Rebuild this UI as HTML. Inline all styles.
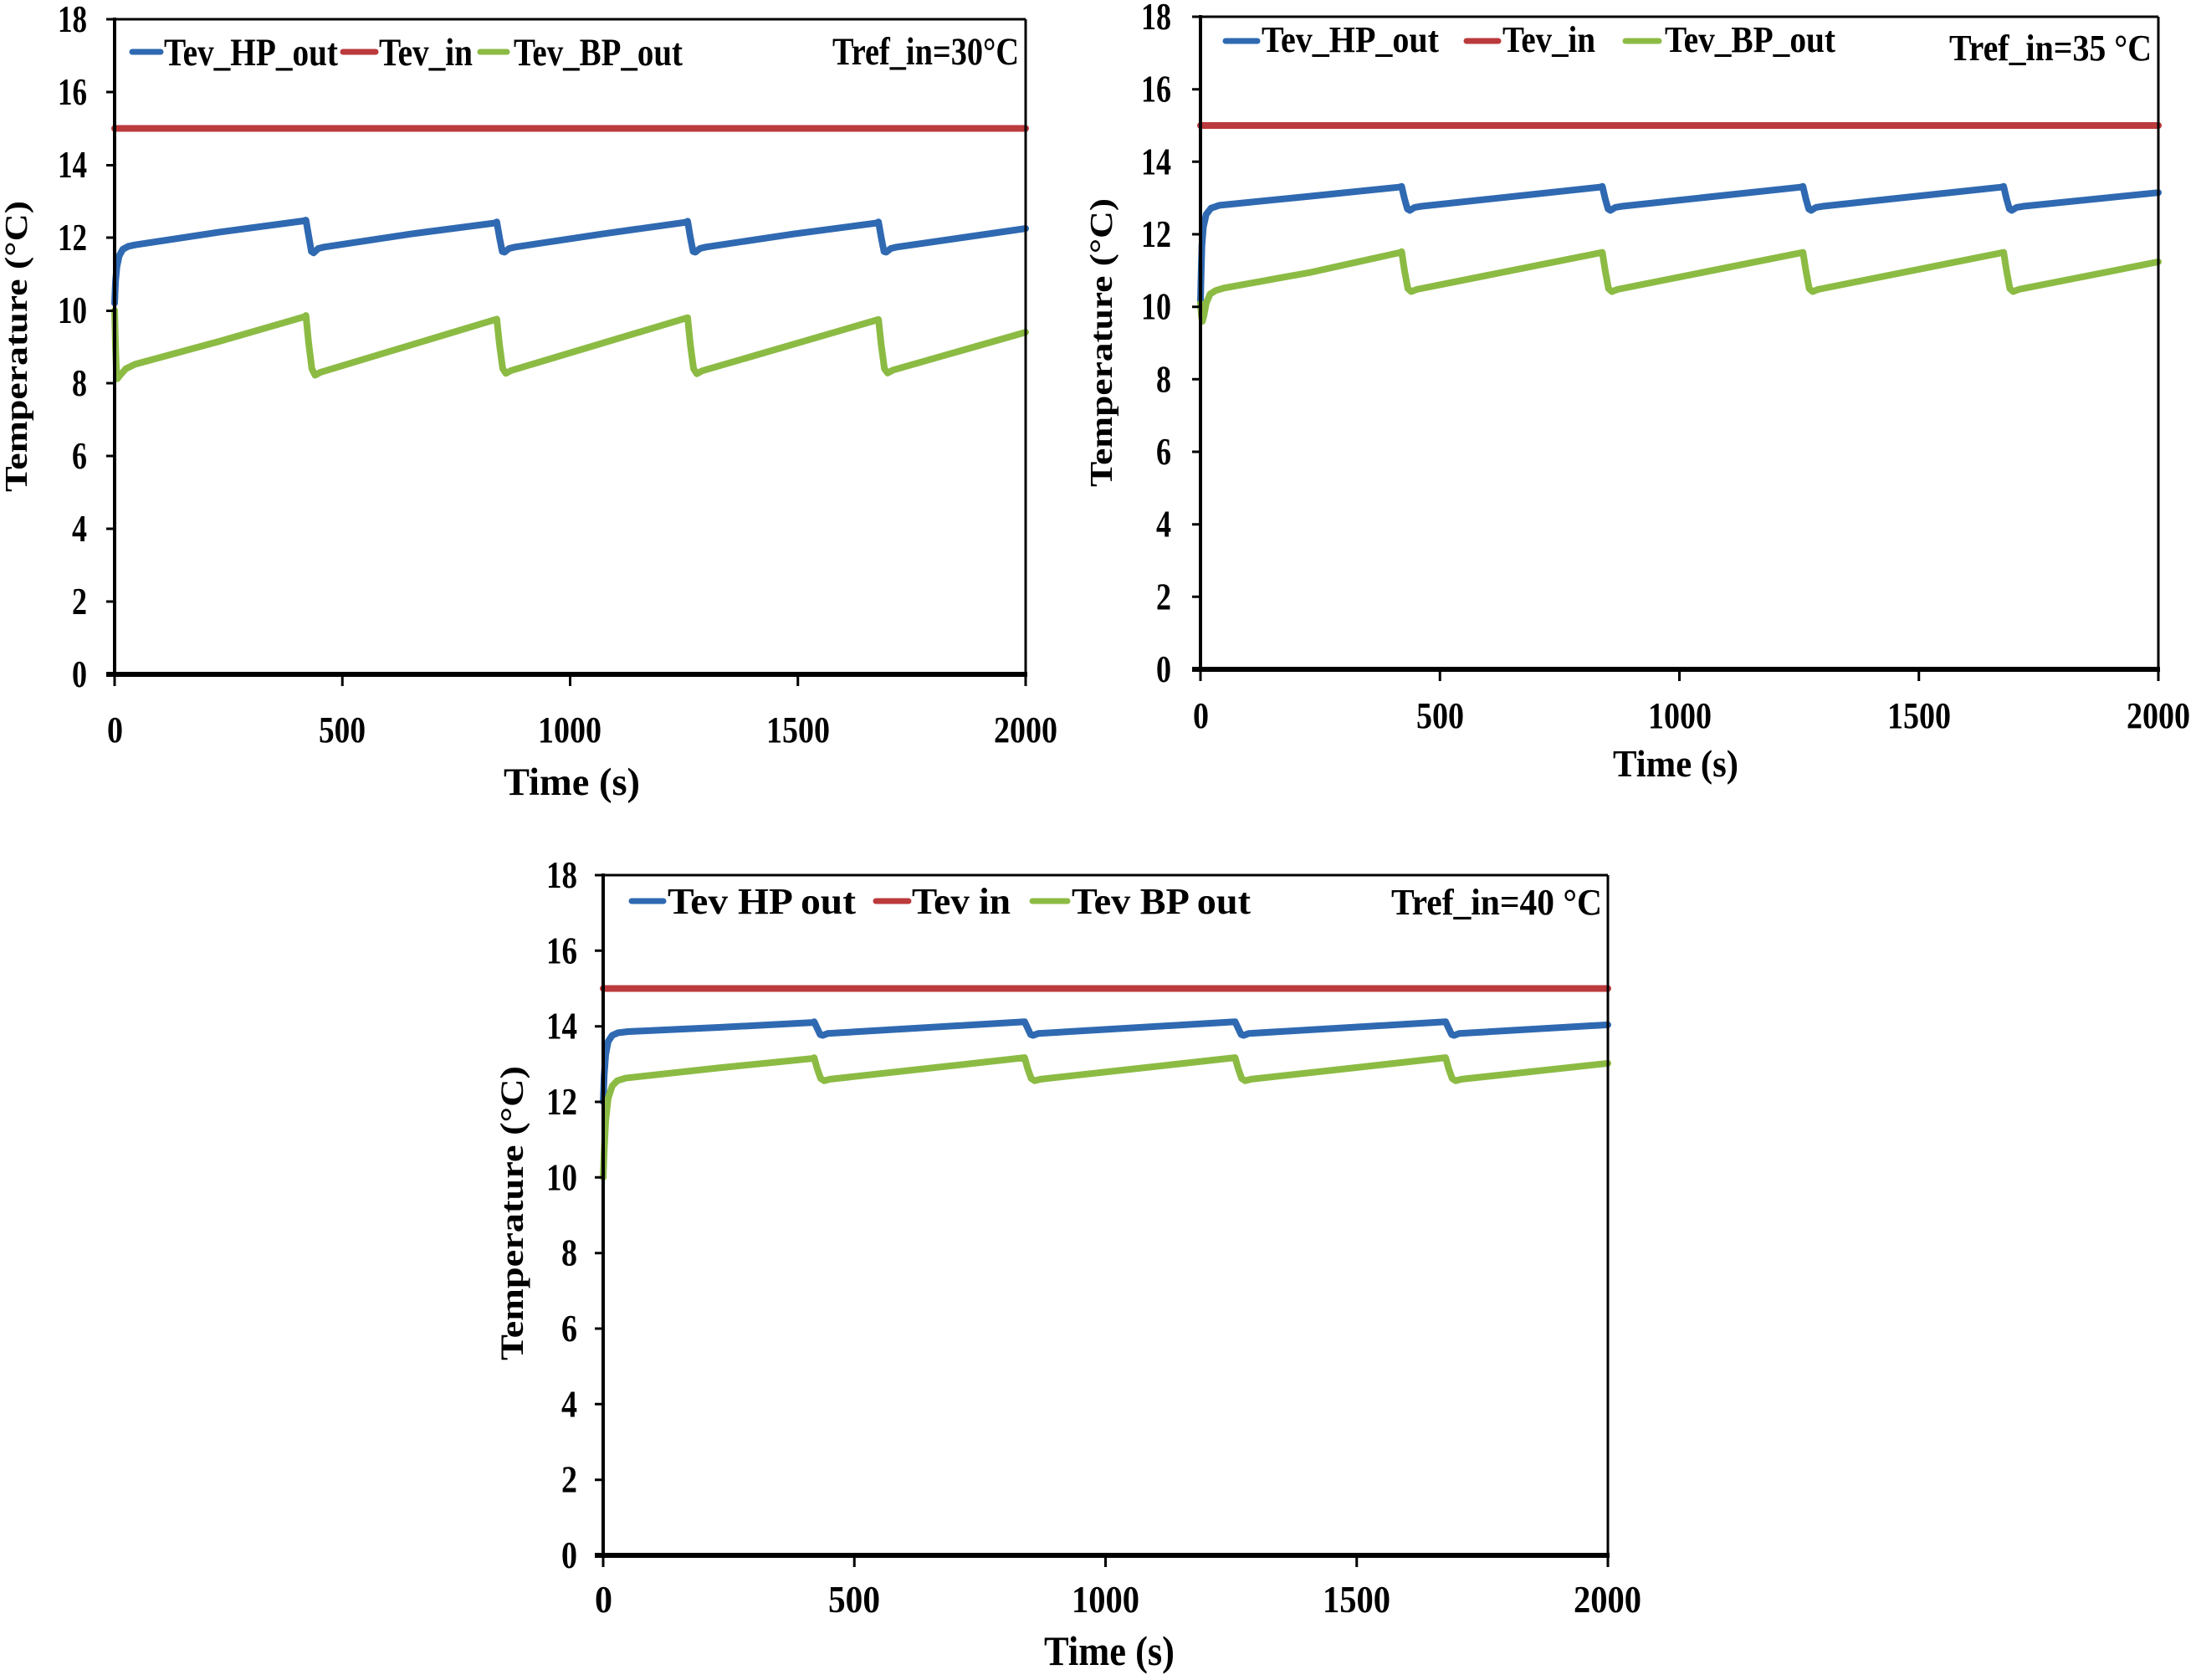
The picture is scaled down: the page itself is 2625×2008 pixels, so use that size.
<!DOCTYPE html>
<html>
<head>
<meta charset="utf-8">
<style>
html,body{margin:0;padding:0;background:#fff;}
svg{display:block;}
.t{font-family:"Liberation Serif","Times New Roman",serif;font-weight:bold;fill:#000;}
.ax{stroke:#000;fill:none;}
.s{fill:none;stroke-width:8;stroke-linejoin:round;stroke-linecap:round;}
.b{stroke:#2f69b1;}
.r{stroke:#bb3a3c;}
.g{stroke:#8cbb44;}
.m{stroke-width:7;stroke-linecap:round;}
</style>
</head>
<body>
<svg width="2625" height="2008" viewBox="0 0 2625 2008" xmlns="http://www.w3.org/2000/svg">
<rect x="0" y="0" width="2625" height="2008" fill="#fff"/>

<!-- ================= CHART 1 ================= -->
<g>
  <g transform="matrix(0.5445 0 0 -43.5 137 806)">
    <path class="s r" vector-effect="non-scaling-stroke" d="M0 15 L2000 15"/>
    <path class="s b" vector-effect="non-scaling-stroke" d="M0 10.2 L2 10.8 L5 11.2 L10 11.5 L18 11.68 L30 11.76 L45 11.8 L230 12.15 L415 12.46 L420 12.48 L426 12.05 L432 11.62 L437 11.58 L447 11.7 L460 11.74 L650 12.1 L834 12.4 L839 12.43 L845 12.0 L851 11.62 L856 11.6 L866 11.7 L879 11.74 L1070 12.1 L1253 12.42 L1258 12.45 L1264 12.0 L1270 11.62 L1275 11.6 L1285 11.7 L1298 11.74 L1490 12.1 L1672 12.4 L1677 12.43 L1683 12.0 L1689 11.62 L1694 11.6 L1704 11.7 L1717 11.74 L2000 12.25"/>
    <path class="s g" vector-effect="non-scaling-stroke" d="M0 10.0 L2 9.0 L4 8.3 L6 8.12 L12 8.22 L25 8.4 L45 8.52 L230 9.15 L418 9.83 L420 9.86 L426 9.1 L433 8.4 L440 8.22 L452 8.3 L839 9.76 L845 9.05 L852 8.4 L859 8.27 L871 8.35 L1258 9.8 L1264 9.05 L1271 8.4 L1278 8.26 L1290 8.34 L1677 9.75 L1683 9.05 L1690 8.4 L1697 8.28 L1709 8.36 L2000 9.4"/>
  </g>
  <line class="ax" x1="137" y1="23" x2="1226" y2="23" stroke-width="3"/>
  <line class="ax" x1="1226" y1="23" x2="1226" y2="806" stroke-width="3"/>
  <line class="ax" x1="137" y1="21" x2="137" y2="808" stroke-width="4"/>
  <line class="ax" x1="127" y1="806" x2="1228" y2="806" stroke-width="6"/>
  <path class="ax" stroke-width="3" d="M127 23H137M127 110H137M127 197.5H137M127 284H137M127 371.5H137M127 458H137M127 545H137M127 632H137M127 719H137M127 806H137"/>
  <path class="ax" stroke-width="3" d="M137 806V820M409.25 806V820M681.5 806V820M953.75 806V820M1226 806V820"/>
  <g class="t" font-size="45">
    <text x="69" y="38" textLength="35" lengthAdjust="spacingAndGlyphs">18</text>
    <text x="69" y="125" textLength="35" lengthAdjust="spacingAndGlyphs">16</text>
    <text x="69" y="212" textLength="35" lengthAdjust="spacingAndGlyphs">14</text>
    <text x="69" y="299" textLength="35" lengthAdjust="spacingAndGlyphs">12</text>
    <text x="69" y="386" textLength="35" lengthAdjust="spacingAndGlyphs">10</text>
    <text x="86" y="473" textLength="18" lengthAdjust="spacingAndGlyphs">8</text>
    <text x="86" y="560" textLength="18" lengthAdjust="spacingAndGlyphs">6</text>
    <text x="86" y="647" textLength="18" lengthAdjust="spacingAndGlyphs">4</text>
    <text x="86" y="734" textLength="18" lengthAdjust="spacingAndGlyphs">2</text>
    <text x="86" y="821" textLength="18" lengthAdjust="spacingAndGlyphs">0</text>
  </g>
  <g class="t" font-size="44">
    <text x="128" y="887" textLength="19" lengthAdjust="spacingAndGlyphs">0</text>
    <text x="381" y="887" textLength="56" lengthAdjust="spacingAndGlyphs">500</text>
    <text x="643" y="887" textLength="76" lengthAdjust="spacingAndGlyphs">1000</text>
    <text x="916" y="887" textLength="76" lengthAdjust="spacingAndGlyphs">1500</text>
    <text x="1188" y="887" textLength="76" lengthAdjust="spacingAndGlyphs">2000</text>
  </g>
  <text class="t" font-size="47" x="602" y="950" textLength="163" lengthAdjust="spacingAndGlyphs">Time (s)</text>
  <text class="t" font-size="38" transform="translate(32,588) rotate(-90)" x="0" y="0" textLength="348" lengthAdjust="spacingAndGlyphs">Temperature (°C)</text>
  <line class="m b" x1="158" y1="62" x2="192" y2="62"/>
  <line class="m r" x1="410" y1="62" x2="449" y2="62"/>
  <line class="m g" x1="574" y1="62" x2="606" y2="62"/>
  <g class="t" font-size="47">
    <text x="196" y="78" textLength="208" lengthAdjust="spacingAndGlyphs">Tev_HP_out</text>
    <text x="453" y="78" textLength="112" lengthAdjust="spacingAndGlyphs">Tev_in</text>
    <text x="614" y="78" textLength="202" lengthAdjust="spacingAndGlyphs">Tev_BP_out</text>
    <text x="995" y="77" textLength="223" lengthAdjust="spacingAndGlyphs">Tref_in=30°C</text>
  </g>
</g>

<!-- ================= CHART 2 ================= -->
<g>
  <g transform="matrix(0.5725 0 0 -43.333 1435 800)">
    <path class="s r" vector-effect="non-scaling-stroke" d="M0 15 L2000 15"/>
    <path class="s b" vector-effect="non-scaling-stroke" d="M0 10.15 L1.5 11.0 L3 11.7 L6 12.2 L12 12.55 L22 12.72 L40 12.8 L230 13.05 L415 13.3 L420 13.32 L426 12.98 L432 12.7 L437 12.66 L447 12.74 L460 12.77 L834 13.3 L839 13.32 L845 12.98 L851 12.7 L856 12.66 L866 12.74 L879 12.77 L1253 13.3 L1258 13.32 L1264 12.98 L1270 12.7 L1275 12.66 L1285 12.74 L1298 12.77 L1672 13.3 L1677 13.32 L1683 12.98 L1689 12.7 L1694 12.66 L1704 12.74 L1717 12.77 L2000 13.15"/>
    <path class="s g" vector-effect="non-scaling-stroke" d="M0 10.1 L2 9.75 L4 9.6 L7 9.75 L12 10.1 L20 10.35 L32 10.45 L50 10.52 L230 10.95 L418 11.5 L420 11.52 L426 11.0 L433 10.5 L440 10.42 L452 10.48 L839 11.5 L845 11.0 L852 10.5 L859 10.42 L871 10.48 L1258 11.5 L1264 11.0 L1271 10.5 L1278 10.42 L1290 10.48 L1677 11.5 L1683 11.0 L1690 10.5 L1697 10.42 L1709 10.48 L2000 11.24"/>
  </g>
  <line class="ax" x1="1435" y1="20" x2="2580" y2="20" stroke-width="3"/>
  <line class="ax" x1="2580" y1="20" x2="2580" y2="800" stroke-width="3"/>
  <line class="ax" x1="1435" y1="18" x2="1435" y2="802" stroke-width="4"/>
  <line class="ax" x1="1425" y1="800" x2="2582" y2="800" stroke-width="6"/>
  <path class="ax" stroke-width="3" d="M1425 20H1435M1425 106.7H1435M1425 193.3H1435M1425 280H1435M1425 366.7H1435M1425 453.3H1435M1425 540H1435M1425 626.7H1435M1425 713.3H1435M1425 800H1435"/>
  <path class="ax" stroke-width="3" d="M1435 800V814M1721.25 800V814M2007.5 800V814M2293.75 800V814M2580 800V814"/>
  <g class="t" font-size="45">
    <text x="1364" y="35" textLength="36" lengthAdjust="spacingAndGlyphs">18</text>
    <text x="1364" y="121.7" textLength="36" lengthAdjust="spacingAndGlyphs">16</text>
    <text x="1364" y="208.3" textLength="36" lengthAdjust="spacingAndGlyphs">14</text>
    <text x="1364" y="295" textLength="36" lengthAdjust="spacingAndGlyphs">12</text>
    <text x="1364" y="381.7" textLength="36" lengthAdjust="spacingAndGlyphs">10</text>
    <text x="1382" y="468.3" textLength="18" lengthAdjust="spacingAndGlyphs">8</text>
    <text x="1382" y="555" textLength="18" lengthAdjust="spacingAndGlyphs">6</text>
    <text x="1382" y="641.7" textLength="18" lengthAdjust="spacingAndGlyphs">4</text>
    <text x="1382" y="728.3" textLength="18" lengthAdjust="spacingAndGlyphs">2</text>
    <text x="1382" y="815" textLength="18" lengthAdjust="spacingAndGlyphs">0</text>
  </g>
  <g class="t" font-size="44">
    <text x="1426" y="870" textLength="19" lengthAdjust="spacingAndGlyphs">0</text>
    <text x="1693" y="870" textLength="57" lengthAdjust="spacingAndGlyphs">500</text>
    <text x="1970" y="870" textLength="76" lengthAdjust="spacingAndGlyphs">1000</text>
    <text x="2256" y="870" textLength="76" lengthAdjust="spacingAndGlyphs">1500</text>
    <text x="2542" y="870" textLength="76" lengthAdjust="spacingAndGlyphs">2000</text>
  </g>
  <text class="t" font-size="45" x="1928" y="928" textLength="150" lengthAdjust="spacingAndGlyphs">Time (s)</text>
  <text class="t" font-size="38" transform="translate(1329,582) rotate(-90)" x="0" y="0" textLength="345" lengthAdjust="spacingAndGlyphs">Temperature (°C)</text>
  <line class="m b" x1="1465" y1="49" x2="1503" y2="49"/>
  <line class="m r" x1="1753" y1="49" x2="1791" y2="49"/>
  <line class="m g" x1="1943" y1="49" x2="1983" y2="49"/>
  <g class="t" font-size="44">
    <text x="1508" y="62" textLength="212" lengthAdjust="spacingAndGlyphs">Tev_HP_out</text>
    <text x="1796" y="62" textLength="111" lengthAdjust="spacingAndGlyphs">Tev_in</text>
    <text x="1990" y="62" textLength="204" lengthAdjust="spacingAndGlyphs">Tev_BP_out</text>
    <text x="2330" y="72" textLength="242" lengthAdjust="spacingAndGlyphs">Tref_in=35 °C</text>
  </g>
</g>

<!-- ================= CHART 3 ================= -->
<g>
  <g transform="matrix(0.6005 0 0 -45.167 721 1859)">
    <path class="s r" vector-effect="non-scaling-stroke" d="M0 15 L2000 15"/>
    <path class="s b" vector-effect="non-scaling-stroke" d="M0 12.0 L2 12.7 L5 13.25 L10 13.6 L18 13.76 L30 13.83 L50 13.86 L230 13.97 L418 14.1 L420 14.12 L426 13.95 L432 13.78 L437 13.76 L447 13.81 L839 14.12 L845 13.95 L851 13.78 L856 13.76 L866 13.81 L1258 14.12 L1264 13.95 L1270 13.78 L1275 13.76 L1285 13.81 L1677 14.12 L1683 13.95 L1689 13.78 L1694 13.76 L1704 13.81 L2000 14.04"/>
    <path class="s g" vector-effect="non-scaling-stroke" d="M0 10.0 L2 10.7 L5 11.5 L10 12.1 L18 12.42 L28 12.56 L45 12.63 L230 12.9 L418 13.15 L420 13.17 L426 12.88 L433 12.62 L440 12.56 L452 12.6 L839 13.17 L845 12.88 L852 12.62 L859 12.56 L871 12.6 L1258 13.17 L1264 12.88 L1271 12.62 L1278 12.56 L1290 12.6 L1677 13.17 L1683 12.88 L1690 12.62 L1697 12.56 L1709 12.6 L2000 13.02"/>
  </g>
  <line class="ax" x1="721" y1="1046" x2="1922" y2="1046" stroke-width="3"/>
  <line class="ax" x1="1922" y1="1046" x2="1922" y2="1859" stroke-width="3"/>
  <line class="ax" x1="721" y1="1044" x2="721" y2="1861" stroke-width="4"/>
  <line class="ax" x1="711" y1="1859" x2="1924" y2="1859" stroke-width="6"/>
  <path class="ax" stroke-width="3" d="M711 1046H721M711 1136.3H721M711 1226.7H721M711 1317H721M711 1407.3H721M711 1497.7H721M711 1588H721M711 1678.3H721M711 1768.7H721M711 1859H721"/>
  <path class="ax" stroke-width="3" d="M721 1859V1873M1021.25 1859V1873M1321.5 1859V1873M1621.75 1859V1873M1922 1859V1873"/>
  <g class="t" font-size="46">
    <text x="653" y="1061" textLength="37" lengthAdjust="spacingAndGlyphs">18</text>
    <text x="653" y="1151.3" textLength="37" lengthAdjust="spacingAndGlyphs">16</text>
    <text x="653" y="1241.7" textLength="37" lengthAdjust="spacingAndGlyphs">14</text>
    <text x="653" y="1332" textLength="37" lengthAdjust="spacingAndGlyphs">12</text>
    <text x="653" y="1422.3" textLength="37" lengthAdjust="spacingAndGlyphs">10</text>
    <text x="671" y="1512.7" textLength="19" lengthAdjust="spacingAndGlyphs">8</text>
    <text x="671" y="1603" textLength="19" lengthAdjust="spacingAndGlyphs">6</text>
    <text x="671" y="1693.3" textLength="19" lengthAdjust="spacingAndGlyphs">4</text>
    <text x="671" y="1783.7" textLength="19" lengthAdjust="spacingAndGlyphs">2</text>
    <text x="671" y="1874" textLength="19" lengthAdjust="spacingAndGlyphs">0</text>
  </g>
  <g class="t" font-size="45">
    <text x="711" y="1927" textLength="21" lengthAdjust="spacingAndGlyphs">0</text>
    <text x="990" y="1927" textLength="62" lengthAdjust="spacingAndGlyphs">500</text>
    <text x="1281" y="1927" textLength="81" lengthAdjust="spacingAndGlyphs">1000</text>
    <text x="1581" y="1927" textLength="81" lengthAdjust="spacingAndGlyphs">1500</text>
    <text x="1881" y="1927" textLength="81" lengthAdjust="spacingAndGlyphs">2000</text>
  </g>
  <text class="t" font-size="50" x="1248" y="1990" textLength="156" lengthAdjust="spacingAndGlyphs">Time (s)</text>
  <text class="t" font-size="39" transform="translate(625,1626) rotate(-90)" x="0" y="0" textLength="352" lengthAdjust="spacingAndGlyphs">Temperature (°C)</text>
  <line class="m b" x1="755" y1="1077" x2="793" y2="1077"/>
  <line class="m r" x1="1047" y1="1077" x2="1086" y2="1077"/>
  <line class="m g" x1="1234" y1="1077" x2="1276" y2="1077"/>
  <g class="t" font-size="44">
    <text x="798" y="1092" textLength="225" lengthAdjust="spacingAndGlyphs">Tev HP out</text>
    <text x="1090" y="1092" textLength="118" lengthAdjust="spacingAndGlyphs">Tev in</text>
    <text x="1281" y="1092" textLength="214" lengthAdjust="spacingAndGlyphs">Tev BP out</text>
    <text x="1663" y="1093" textLength="252" lengthAdjust="spacingAndGlyphs">Tref_in=40 °C</text>
  </g>
</g>
</svg>
</body>
</html>
